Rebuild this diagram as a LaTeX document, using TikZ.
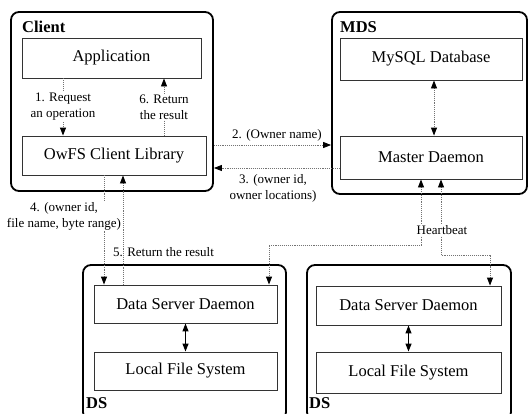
\documentclass[tikz,border=0pt]{standalone}
\usepackage{fontspec}
\setmainfont{Liberation Serif}
\usetikzlibrary{arrows.meta}

\begin{document}
\begin{tikzpicture}[x=1pt,y=-1pt,
 outer/.style={draw=black,line width=1.8pt,rounded corners=8pt},
 inner/.style={draw=black!80,line width=0.9pt,font=\fontsize{16.5}{19}\selectfont},
 title/.style={inner sep=0pt,anchor=west,font=\fontsize{16.5}{19}\selectfont\bfseries},
 flow/.style={draw=black!55,densely dotted,line width=0.9pt},
 tip/.style={-{Triangle[length=8pt,width=6pt,color=black]}},
 tips/.style={{Triangle[length=8pt,width=6pt,color=black]}-{Triangle[length=8pt,width=6pt,color=black]}},
 lbl/.style={font=\fontsize{13}{16}\selectfont,align=center,inner sep=1pt}]
 \useasboundingbox (0,0) rectangle (529,413);
 \node[outer,minimum width=202pt,minimum height=179pt] (client) at (112,101.5) {};
 \node[outer,minimum width=195pt,minimum height=182pt] (mds) at (429.5,103) {};
 \node[outer,minimum width=203pt,minimum height=155pt] (ds1) at (184.5,342.5) {};
 \node[outer,minimum width=204pt,minimum height=155pt] (ds2) at (409,342.5) {};
 \node[title] (clientname) at (22,27) {Client};
 \node[title] (mdsname) at (340,27) {MDS};
 \node[title] (dsname1) at (86,403) {DS};
 \node[title] (dsname2) at (309,403) {DS};
 \node[inner,minimum width=179pt,minimum height=40pt] (app) at (111.5,58) {Application};
 \node[inner,minimum width=184pt,minimum height=39pt] (lib) at (114,155.5) {OwFS Client Library};
 \node[inner,minimum width=182pt,minimum height=42pt] (db) at (431,59) {MySQL Database};
 \node[inner,minimum width=182pt,minimum height=43pt] (md) at (431,157.5) {Master Daemon};
 \node[inner,minimum width=183pt,minimum height=38pt] (dsd1) at (185.5,304) {Data Server Daemon};
 \node[inner,minimum width=183pt,minimum height=38pt] (lfs1) at (185.5,371) {Local File System};
 \node[inner,minimum width=185pt,minimum height=39pt] (dsd2) at (408.5,305.5) {Data Server Daemon};
 \node[inner,minimum width=185pt,minimum height=41pt] (lfs2) at (408.5,372.5) {Local File System};
 \draw[flow,tip] (63,0 |- app.south) -- (63,0 |- lib.north);
 \draw[flow,tip] (164,0 |- lib.north) -- (164,0 |- app.south);
 \draw[flow,tip] (client.east |- 0,145) -- (mds.west |- 0,145);
 \draw[flow,tip] (md.west |- 0,168) -- (client.east |- 0,168);
 \draw[flow,tips] (434,0 |- db.south) -- (434,0 |- md.north);
 \draw[flow,tip] (104,0 |- lib.south) -- (104,0 |- dsd1.north);
 \draw[flow,tips] (421,0 |- md.south) -- (421,245) -- (269,245) -- (269,0 |- dsd1.north);
 \draw[flow,tips] (441,0 |- md.south) -- (441,255) -- (490,255) -- (490,0 |- dsd2.north);
 \draw[line width=1.2pt,tips] (dsd1.south) -- (lfs1.north);
 \draw[line width=1.2pt,tips] (dsd2.south) -- (lfs2.north);
 \node[lbl,fill=white] (req) at (63,107) {1. Request\\an operation};
 \node[lbl,fill=white] (ret) at (164,107) {6. Return\\the result};
 \node[lbl] (owner) at (277,135) {2. (Owner name)};
 \node[lbl] (loc) at (273,188) {3. (owner id,\\owner locations)};
 \node[lbl,fill=white] (range) at (64,216) {4. (owner id,\\file name, byte range)};
 \draw[flow,tip] (123,0 |- dsd1.north) -- (123,0 |- lib.south);
 \node[lbl,anchor=west] (res) at (112,252) {5. Return the result};
 \node[lbl,fill=white] (beat) at (442,230) {Heartbeat};
\end{tikzpicture}
\end{document}
